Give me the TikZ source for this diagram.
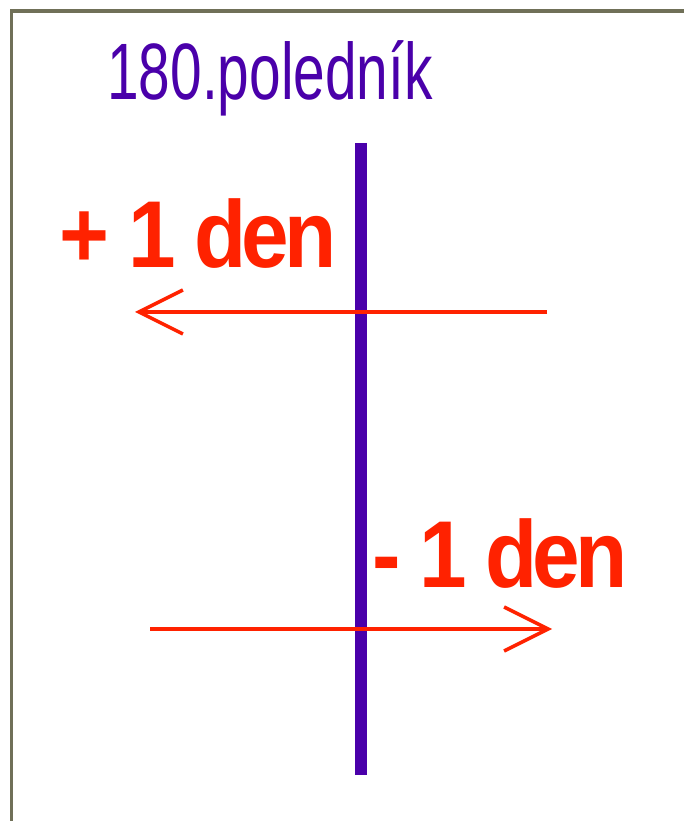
\documentclass[tikz,border=0pt]{standalone}
\usepackage{fontspec}
\setmainfont{Liberation Sans}
\newfontfamily\tightbold[LetterSpace=-6]{Liberation Sans Bold}
\usepackage{tikz}
\usetikzlibrary{arrows.meta}
\usepackage{xcolor}
\definecolor{meridian}{RGB}{74,0,170}
\definecolor{dayred}{RGB}{255,34,0}
\definecolor{frame}{RGB}{112,112,88}
\tikzset{
  frameline/.style={draw=frame, line width=3.5pt},
  meridianline/.style={draw=meridian, line width=12pt},
  dayarrow/.style={draw=dayred, line width=4pt, -{Straight Barb[length=44pt,width=44pt,line width=3.5pt]}},
  titletext/.style={text=meridian, inner sep=0pt, anchor=base, xscale=0.71, font=\fontsize{80}{90}\selectfont},
  daytext/.style={text=dayred, inner sep=0pt, anchor=base, xscale=0.9, font=\fontsize{95}{100}\tightbold}
}

\begin{document}
\begin{tikzpicture}[x=1pt,y=1pt]
\useasboundingbox (0,0) rectangle (684,821);
% ---- frame ----
\draw[frameline] (11.5,0) -- (11.5,810) -- (684,810);
% ---- meridian ----
\node[titletext] (title) at (270,721) {180.poledník};
\coordinate (mtop) at (361,678);
\coordinate (mbot) at (361,46);
\draw[meridianline] (mtop) -- (mbot);
% ---- date line crossings ----
\node[daytext] (plus) at (198,553) {+ 1 den};
\coordinate (westS) at (547,509);
\coordinate (westE) at (135,509);
\draw[dayarrow] (westS) -- (westE);
\node[daytext] (minus) at (500,233) {- 1 den};
\coordinate (eastS) at (150,192);
\coordinate (eastE) at (552,192);
\draw[dayarrow] (eastS) -- (eastE);
\end{tikzpicture}
\end{document}
